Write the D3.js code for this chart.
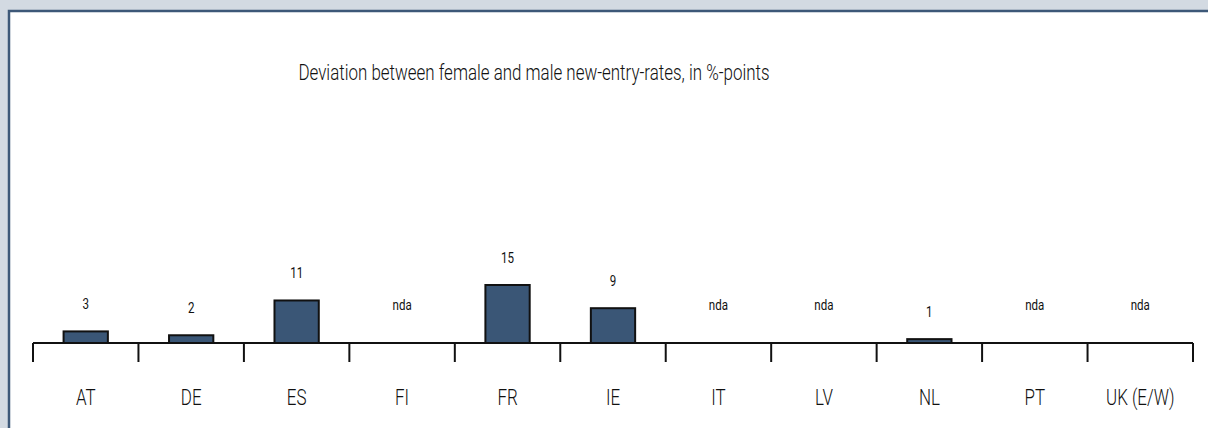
<!DOCTYPE html>
<html>
<head>
<meta charset="utf-8">
<script src="https://cdn.jsdelivr.net/npm/d3@7"></script>
<style>
  html, body { margin: 0; padding: 0; background: #d3dae2; overflow: hidden; }
  svg { display: block; }
  text { font-family: "Roboto", "Liberation Sans", sans-serif; fill: #111; }
</style>
</head>
<body>
<div id="chart"></div>
<script>
// country codes along the x axis
var countries = ['AT', 'DE', 'ES', 'FI', 'FR', 'IE', 'IT', 'LV', 'NL', 'PT', 'UK (E/W)'];
// deviation in %-points, null = no data available
var deviation = [3, 2, 11, null, 15, 9, null, null, 1, null, null];
var noDataLabel = 'nda';
var title = 'Deviation between female and male new-entry-rates, in %-points';

var width = 1208, height = 428;
var squeeze = 0.77; // the original uses a condensed face

// drawn a bit wider than the window so the panel runs off the right edge
var svg = d3.select('#chart').append('svg')
    .attr('width', width + 20)
    .attr('height', height + 10);

// white panel with the dark blue frame on top and left
svg.append('rect')
    .attr('x', 8).attr('y', 10)
    .attr('width', width + 12).attr('height', height)
    .attr('fill', '#fff');
svg.append('path')
    .attr('d', 'M9,' + (height + 10) + 'V11H' + (width + 20))
    .attr('fill', 'none')
    .attr('stroke', '#3d5878')
    .attr('stroke-width', 2.5);

svg.append('text')
    .attr('transform', 'translate(534,80) scale(' + squeeze + ',1)')
    .attr('text-anchor', 'middle')
    .attr('font-size', 22)
    .attr('font-weight', 300)
    .text(title);

var data = countries.map(function(c, i) { return {country: c, value: deviation[i]}; });

var x = d3.scaleBand()
    .domain(countries)
    .range([33, 1193])
    .paddingInner(0.58)
    .paddingOuter(0.29);

var y = d3.scaleLinear()
    .domain([0, 15])
    .range([343, 285]);

// category labels under the axis
var xAxis = d3.axisBottom(x).tickSize(0).tickPadding(46);
var gx = svg.append('g')
    .attr('transform', 'translate(0,' + y(0) + ')')
    .call(xAxis);
gx.select('.domain').remove();
gx.selectAll('text')
    .attr('font-size', 22)
    .attr('font-weight', 300)
    .attr('fill', '#111')
    .attr('transform', 'scale(' + squeeze + ',1)')
    .style('font-family', '"Roboto", "Liberation Sans", sans-serif');

// baseline + separators between categories
var bounds = d3.range(countries.length + 1).map(function(i) {
  return x(countries[0]) - x.step() * x.paddingOuter() + i * x.step();
});

svg.append('line')
    .attr('x1', bounds[0]).attr('x2', bounds[bounds.length - 1])
    .attr('y1', y(0)).attr('y2', y(0))
    .attr('stroke', '#111').attr('stroke-width', 2);

svg.selectAll('.sep')
    .data(bounds)
    .enter().append('line')
    .attr('class', 'sep')
    .attr('x1', function(d) { return d; })
    .attr('x2', function(d) { return d; })
    .attr('y1', y(0))
    .attr('y2', y(0) + 19)
    .attr('stroke', '#111')
    .attr('stroke-width', 2);

svg.selectAll('.bar')
    .data(data.filter(function(d) { return d.value !== null; }))
    .enter().append('rect')
    .attr('class', 'bar')
    .attr('x', function(d) { return x(d.country); })
    .attr('y', function(d) { return y(d.value); })
    .attr('width', x.bandwidth())
    .attr('height', function(d) { return y(0) - y(d.value); })
    .attr('fill', '#3a5676')
    .attr('stroke', '#111')
    .attr('stroke-width', 2);

svg.selectAll('.val')
    .data(data)
    .enter().append('text')
    .attr('class', 'val')
    .attr('transform', function(d) {
      var tx = x(d.country) + x.bandwidth() / 2;
      var ty = d.value === null ? y(0) - 33 : y(d.value) - 22;
      return 'translate(' + tx + ',' + ty + ') scale(' + squeeze + ',1)';
    })
    .attr('text-anchor', 'middle')
    .attr('font-size', 15)
    .text(function(d) { return d.value === null ? noDataLabel : d.value; });
</script>
</body>
</html>
